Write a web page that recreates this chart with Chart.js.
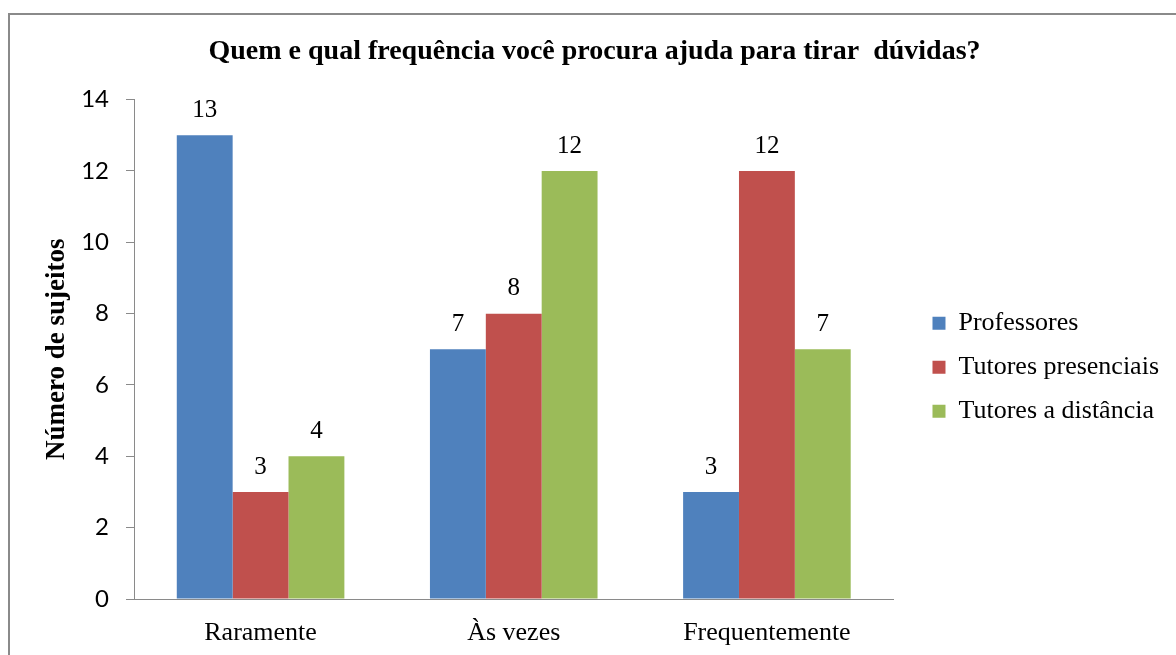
<!DOCTYPE html>
<html>
<head>
<meta charset="utf-8">
<script src="https://cdn.jsdelivr.net/npm/chart.js@4"></script>
<style>
  html, body { margin: 0; padding: 0; background: #fff; overflow: hidden; }
  #frame { position: absolute; left: 8px; top: 13px; width: 1200px; height: 700px; border: 2px solid #8a8a8a; }
  #wrap { position: absolute; left: 0; top: 0; width: 1176px; height: 655px; }
</style>
</head>
<body>
<div id="frame"></div>
<div id="wrap"><canvas id="chart"></canvas></div>
<script>
const categories = ['Raramente', 'Às vezes', 'Frequentemente'];
const professores = [13, 7, 3];
const tutoresPresenciais = [3, 8, 12];
const tutoresDistancia = [4, 12, 7];
const yTicks = [0, 2, 4, 6, 8, 10, 12, 14];

const serif = '"Liberation Serif", "Times New Roman", serif';

// value labels above each bar
const barLabels = {
    id: 'barLabels',
    afterLayout(chart) {
        // leave a gap between the plot and the legend
        if (chart.legend) {
            chart.legend.left += 21;
            chart.legend.right += 21;
        }
    },
    afterDatasetsDraw(chart) {
        const ctx = chart.ctx;
        ctx.save();
        ctx.font = '25px ' + serif;
        ctx.fillStyle = '#000';
        ctx.textAlign = 'center';
        ctx.textBaseline = 'middle';
        chart.data.datasets.forEach((ds, i) => {
            chart.getDatasetMeta(i).data.forEach((bar, j) => {
                ctx.fillText(ds.data[j], bar.x, bar.y - 25);
            });
        });
        ctx.restore();
    }
};

const ctx = document.getElementById('chart').getContext('2d');

const chart = new Chart(ctx, {
    type: 'bar',
    data: {
        labels: categories,
        datasets: [
            { label: 'Professores', data: professores, backgroundColor: '#4F81BD' },
            { label: 'Tutores presenciais', data: tutoresPresenciais, backgroundColor: '#C0504D' },
            { label: 'Tutores a distância', data: tutoresDistancia, backgroundColor: '#9BBB59' }
        ]
    },
    options: {
        responsive: true,
        maintainAspectRatio: false,
        animation: false,
        categoryPercentage: 0.662,
        barPercentage: 1,
        layout: {
            padding: { left: 41, right: 28, top: 0, bottom: 7 }
        },
        plugins: {
            title: {
                display: true,
                text: 'Quem e qual frequência você procura ajuda para tirar  dúvidas?',
                color: '#000',
                font: { family: serif, size: 28, weight: 'bold' },
                padding: { top: 35, bottom: 31 }
            },
            legend: {
                position: 'right',
                fullSize: false,
                title: {
                    display: true,
                    text: ' ',
                    font: { size: 10 },
                    padding: { top: 24, bottom: 0 }
                },
                labels: {
                    color: '#000',
                    font: { family: serif, size: 26 },
                    boxWidth: 13,
                    boxHeight: 13,
                    padding: 18
                }
            },
            tooltip: { enabled: false }
        },
        scales: {
            x: {
                grid: { drawOnChartArea: false, drawTicks: false },
                border: { display: true, color: '#8a8a8a', width: 1 },
                ticks: {
                    color: '#000',
                    font: { family: serif, size: 26 },
                    padding: 19
                },
                afterFit: scale => { scale.height = 49; }
            },
            y: {
                min: 0,
                max: 14,
                afterBuildTicks: axis => {
                    axis.ticks = yTicks.map(v => ({ value: v }));
                },
                grid: { drawOnChartArea: false, drawTicks: true, tickLength: 8, color: '#8a8a8a' },
                border: { display: true, color: '#8a8a8a', width: 1 },
                ticks: {
                    color: '#000',
                    font: { family: 'Lato, "Open Sans", sans-serif', size: 24 },
                    padding: 17
                },
                title: {
                    display: true,
                    text: 'Número de sujeitos',
                    color: '#000',
                    font: { family: serif, size: 27, weight: 'bold' },
                    padding: { top: 0, bottom: 0 }
                },
                afterFit: scale => { scale.width = 93; }
            }
        }
    },
    plugins: [barLabels]
});
</script>
</body>
</html>
